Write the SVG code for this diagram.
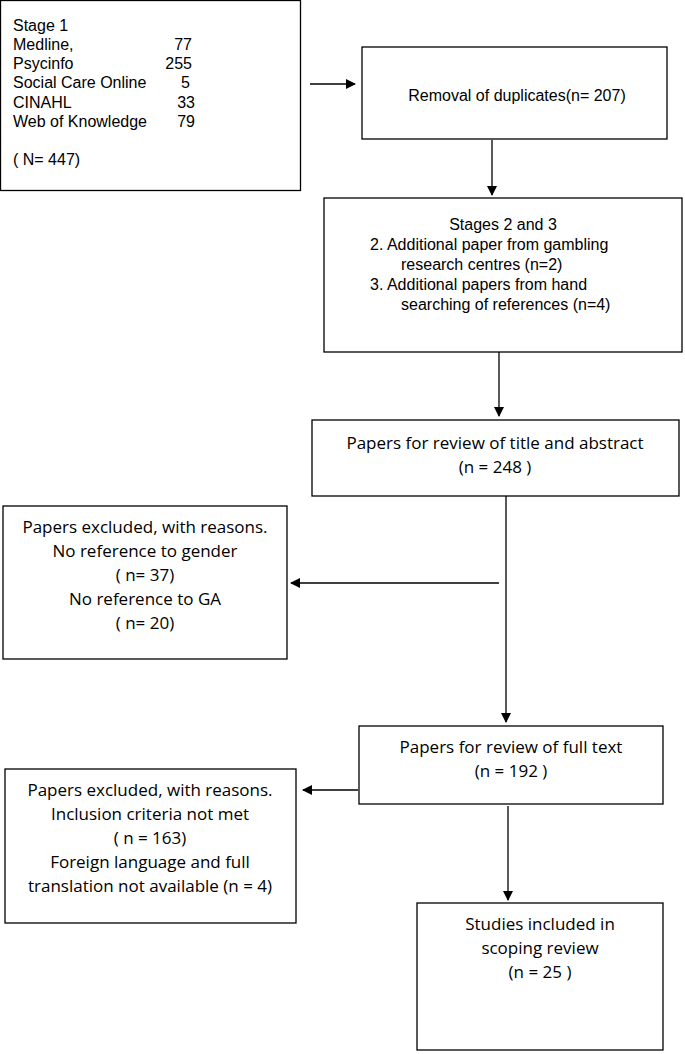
<svg xmlns="http://www.w3.org/2000/svg" width="685" height="1054" viewBox="0 0 685 1054" xml:space="preserve">
<style>
rect{fill:#fff;stroke:#000;stroke-width:1.3}
.a{font-family:"Liberation Sans",Arial,sans-serif;font-size:16px;fill:#000}
.b{font-family:"Open Sans","Liberation Sans",sans-serif;font-size:17px;fill:#000;text-anchor:middle}
.c{stroke:#000;stroke-width:1.3;fill:none;marker-end:url(#m)}
</style>
<defs><marker id="m" markerWidth="10" markerHeight="10" refX="9" refY="5" orient="auto" markerUnits="userSpaceOnUse"><path d="M0,0L10,5L0,10z" fill="#000"/></marker></defs>
<g id="n1"><rect x="0.5" y="0.5" width="300" height="190"/>
<text class="a" x="13" y="31">Stage 1</text>
<text class="a" x="13" y="50">Medline,</text><text class="a" x="192" y="50" text-anchor="end">77</text>
<text class="a" x="13" y="69">Psycinfo</text><text class="a" x="192" y="69" text-anchor="end">255</text>
<text class="a" x="13" y="88">Social Care Online</text><text class="a" x="190" y="88" text-anchor="end">5</text>
<text class="a" x="13" y="108">CINAHL</text><text class="a" x="195" y="108" text-anchor="end">33</text>
<text class="a" x="13" y="127">Web of Knowledge</text><text class="a" x="195" y="127" text-anchor="end">79</text>
<text class="a" x="13" y="165">( N=  447)</text></g>
<g id="n2"><rect x="362" y="47" width="305" height="92"/>
<text class="a" x="517" y="101" text-anchor="middle" font-size="17">Removal of duplicates(n= 207)</text></g>
<g id="n3"><rect x="324" y="198" width="358" height="154"/>
<text class="a" x="503" y="230" text-anchor="middle">Stages 2 and 3</text>
<text class="a" x="370" y="250">2. Additional paper from gambling</text>
<text class="a" x="401" y="270">research centres (n=2)</text>
<text class="a" x="370" y="290">3. Additional papers from hand</text>
<text class="a" x="401" y="310">searching of references (n=4)</text></g>
<g id="n4"><rect x="312" y="420" width="367" height="76"/>
<text class="b" x="495" y="449">Papers for review of title and abstract</text>
<text class="b" x="495" y="473">(n = 248  )</text></g>
<g id="n5"><rect x="3" y="506" width="284" height="153"/>
<text class="b" x="145" y="533">Papers excluded, with reasons.</text>
<text class="b" x="145" y="557">No reference to gender</text>
<text class="b" x="145" y="581">( n=  37)</text>
<text class="b" x="145" y="605">No reference to GA</text>
<text class="b" x="145" y="629">( n= 20)</text></g>
<g id="n6"><rect x="359" y="726" width="304" height="78"/>
<text class="b" x="511" y="753">Papers for review of full text</text>
<text class="b" x="511" y="777">(n = 192  )</text></g>
<g id="n7"><rect x="5" y="769" width="291" height="154"/>
<text class="b" x="150" y="796">Papers excluded, with reasons.</text>
<text class="b" x="150" y="820">Inclusion criteria not met</text>
<text class="b" x="150" y="844">( n = 163)</text>
<text class="b" x="150" y="868">Foreign language and full</text>
<text class="b" x="150" y="892">translation not available (n = 4)</text></g>
<g id="n8"><rect x="417" y="903" width="246" height="147"/>
<text class="b" x="540" y="930">Studies included in</text>
<text class="b" x="540" y="954">scoping review</text>
<text class="b" x="540" y="978">(n = 25  )</text></g>
<g id="connectors">
<path class="c" d="M310,84H355"/>
<path class="c" d="M492,140V195"/>
<path class="c" d="M499,352V416"/>
<path class="c" d="M506,496V722"/>
<path class="c" d="M499,583H291"/>
<path class="c" d="M358,790H303"/>
<path class="c" d="M508,806V900"/>
</g>
</svg>
